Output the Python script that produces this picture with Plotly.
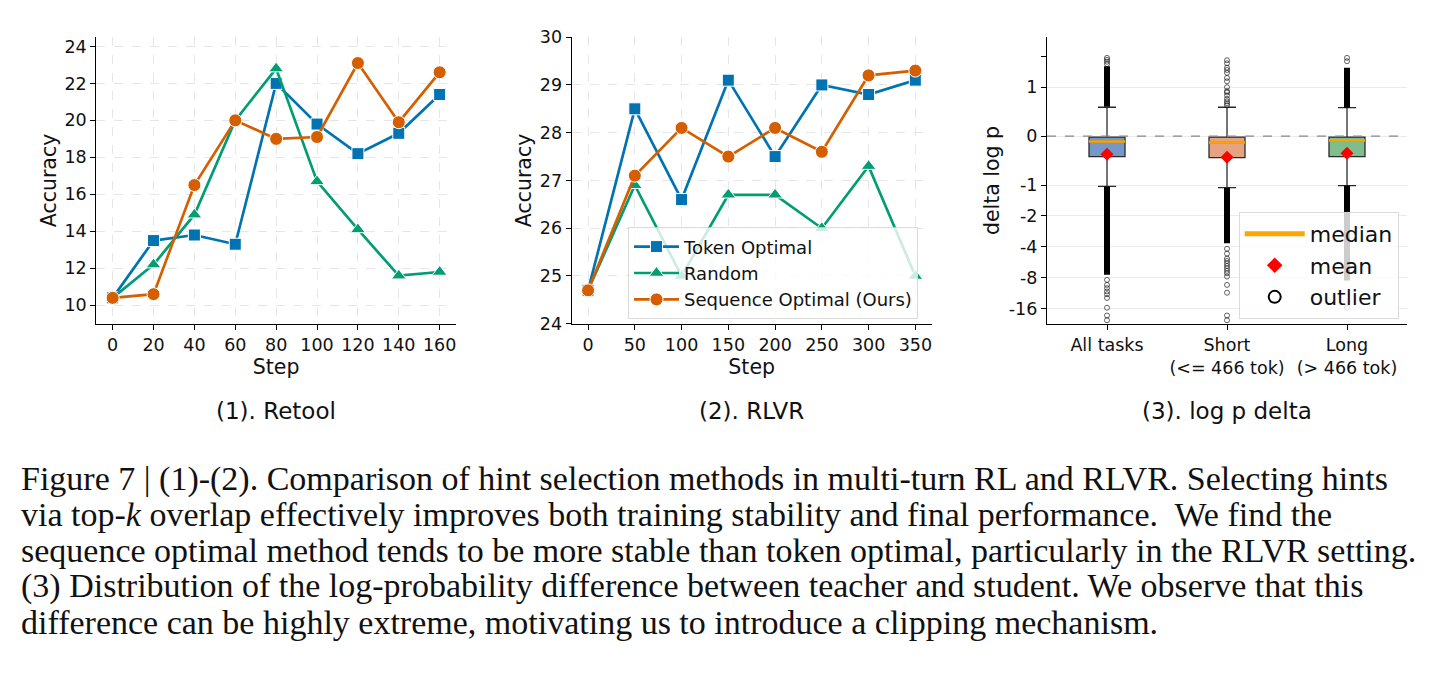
import math
import plotly.graph_objects as go

# ---------------- data ----------------
steps_retool = [0, 20, 40, 60, 80, 100, 120, 140, 160]
retool_token = [10.4, 13.5, 13.8, 13.3, 22.0, 19.8, 18.2, 19.3, 21.4]
retool_random = [10.4, 12.2, 14.9, 20.0, 22.8, 16.7, 14.1, 11.6, 11.8]
retool_seq = [10.4, 10.6, 16.5, 20.0, 19.0, 19.1, 23.1, 19.9, 22.6]

steps_rlvr = [0, 50, 100, 150, 200, 250, 300, 350]
rlvr_token = [24.7, 28.5, 26.6, 29.1, 27.5, 29.0, 28.8, 29.1]
rlvr_random = [24.7, 26.9, 25.0, 26.7, 26.7, 26.0, 27.3, 25.0]
rlvr_seq = [24.7, 27.1, 28.1, 27.5, 28.1, 27.6, 29.2, 29.3]

series_names = ["Token Optimal", "Random", "Sequence Optimal (Ours)"]

box_labels = ["All tasks", "Short<br>(&lt;= 466 tok)", "Long<br>(&gt; 466 tok)"]
box_q1 = [-0.42, -0.44, -0.42]
box_median = [-0.11, -0.13, -0.09]
box_q3 = [-0.02, -0.02, -0.02]
box_mean = [-0.37, -0.43, -0.35]
box_upper_whisker = [0.59, 0.59, 0.58]
box_lower_whisker = [-1.03, -1.06, -1.01]
# dense runs of overlapping outliers (low, high)
dense_outlier_runs = [
    [(0.60, 1.60), (-7.5, -1.03)],
    [(-3.7, -1.06)],
    [(0.58, 1.55), (-8.5, -1.01)],
]
sparse_outliers = [
    [1.68, 1.77, 1.85, 1.93, -8.4, -9.4, -10.1, -10.9, -11.6, -12.6, -15.7, -18.7, -20.8],
    [0.63, 0.67, 0.71, 0.76, 0.83, 0.89, 0.92, 1.0, 1.14, 1.23, 1.38, 1.47, 1.55, 1.71, 1.83,
     -4.18, -4.66, -5.2, -5.49, -5.81, -6.14, -6.48, -6.86, -7.25, -7.8, -9.4, -11.2, -18.7, -20.8],
    [1.79, 1.93, -15.7],
]
logp_ticks = [1, 0, -1, -2, -4, -8, -16]
logp_minor_ticks = [2]

caption_lines = [
    "Figure 7 | (1)-(2). Comparison of hint selection methods in multi-turn RL and RLVR. Selecting hints",
    "via top-<i>k</i> overlap effectively improves both training stability and final performance.  We find the",
    "sequence optimal method tends to be more stable than token optimal, particularly in the RLVR setting.",
    "(3) Distribution of the log-probability difference between teacher and student. We observe that this",
    "difference can be highly extreme, motivating us to introduce a clipping mechanism.",
]
subtitles = ["(1). Retool", "(2). RLVR", "(3). log p delta"]

# ---------------- styling ----------------
W, H = 1451, 678
BLUE, GREEN, ORANGE = "#0173B2", "#029E73", "#D55E00"
BOX_FILL = ["#7597c9", "#e6a381", "#7fbe8c"]
FONT = "DejaVu Sans"


def sym(v):
    """linear within [-1, 1], log2 beyond"""
    if abs(v) <= 1:
        return v
    return math.copysign(1 + 0.63 * math.log2(abs(v)), v)


def px_x(p):
    return p / W


def px_y(p):
    return 1 - p / H


fig = go.Figure()

markers = [("square", 12), ("triangle-up", 13), ("circle", 13)]
colors = [BLUE, GREEN, ORANGE]

for (xs, ys_list, xa, ya, show) in [
    (steps_retool, [retool_token, retool_random, retool_seq], "x", "y", False),
    (steps_rlvr, [rlvr_token, rlvr_random, rlvr_seq], "x2", "y2", True),
]:
    for i, ys in enumerate(ys_list):
        fig.add_trace(go.Scatter(
            x=xs, y=ys, mode="lines+markers", name=series_names[i],
            line=dict(color=colors[i], width=2.7),
            marker=dict(symbol=markers[i][0], size=markers[i][1], color=colors[i],
                        line=dict(color="white", width=1)),
            xaxis=xa, yaxis=ya, showlegend=show, legend="legend",
        ))

# ---- box plot panel ----
BW = 0.3
for i in range(3):
    fig.add_trace(go.Box(
        x=[i], q1=[sym(box_q1[i])], median=[sym(box_median[i])], q3=[sym(box_q3[i])],
        lowerfence=[sym(box_lower_whisker[i])], upperfence=[sym(box_upper_whisker[i])],
        width=BW, whiskerwidth=0.5, fillcolor=BOX_FILL[i],
        line=dict(color="#2a2a2a", width=1.3), boxpoints=False,
        xaxis="x3", yaxis="y3", showlegend=False, hoverinfo="skip",
    ))
    for (lo, hi) in dense_outlier_runs[i]:
        fig.add_trace(go.Scatter(
            x=[i, i], y=[sym(lo), sym(hi)], mode="lines",
            line=dict(color="black", width=6), xaxis="x3", yaxis="y3",
            showlegend=False, hoverinfo="skip",
        ))
    fig.add_trace(go.Scatter(
        x=[i] * len(sparse_outliers[i]), y=[sym(v) for v in sparse_outliers[i]],
        mode="markers", marker=dict(symbol="circle-open", size=5, color="rgba(0,0,0,0.6)",
                                    line=dict(width=1)),
        xaxis="x3", yaxis="y3", showlegend=False, hoverinfo="skip",
    ))
    fig.add_trace(go.Scatter(
        x=[i - BW / 2, i + BW / 2], y=[sym(box_median[i])] * 2, mode="lines",
        line=dict(color="#FFA500", width=2.6), xaxis="x3", yaxis="y3",
        showlegend=False, hoverinfo="skip",
    ))
    fig.add_trace(go.Scatter(
        x=[i], y=[sym(box_mean[i])], mode="markers",
        marker=dict(symbol="diamond", size=10, color="red"),
        xaxis="x3", yaxis="y3", showlegend=False, hoverinfo="skip",
    ))

# legend-only entries for panel 3
fig.add_trace(go.Scatter(x=[None], y=[None], mode="lines", name="median",
                         line=dict(color="#FFA500", width=3), xaxis="x3", yaxis="y3",
                         legend="legend2"))
fig.add_trace(go.Scatter(x=[None], y=[None], mode="markers", name="mean",
                         marker=dict(symbol="diamond", size=14, color="red"),
                         xaxis="x3", yaxis="y3", legend="legend2"))
fig.add_trace(go.Scatter(x=[None], y=[None], mode="markers", name="outlier",
                         marker=dict(symbol="circle-open", size=10, color="black",
                                     line=dict(width=1.2)),
                         xaxis="x3", yaxis="y3", legend="legend2"))

# zero reference line in panel 3
fig.add_trace(go.Scatter(x=[-0.5, 2.5], y=[0, 0], mode="lines",
                         line=dict(color="#888888", width=1.2, dash="dash"),
                         xaxis="x3", yaxis="y3", showlegend=False, hoverinfo="skip"))

TICKF = dict(family=FONT, size=17.5, color="#111")
TITLEF = dict(family=FONT, size=20.5, color="#111")
GRID = dict(showgrid=True, gridcolor="#e6e6e6", gridwidth=0.8, griddash="dash")
AX = dict(showline=True, linecolor="black", linewidth=1.2, ticks="outside", ticklen=5,
          tickcolor="black", tickfont=TICKF, zeroline=False, mirror=False)

top, bottom = 28, 323.3
ydom = [px_y(bottom), px_y(top)]

fig.update_layout(
    width=W, height=H, margin=dict(l=0, r=0, t=0, b=0),
    paper_bgcolor="white", plot_bgcolor="white",
    font=dict(family=FONT, color="#111"),
    xaxis=dict(domain=[px_x(96.3), px_x(456)], range=[-8, 168], tickvals=steps_retool,
               title=dict(text="Step", font=TITLEF, standoff=1), anchor="y", **AX, **GRID),
    yaxis=dict(domain=ydom, range=[9.0, 24.5], tickvals=[10, 12, 14, 16, 18, 20, 22, 24],
               title=dict(text="Accuracy", font=TITLEF, standoff=2), anchor="x", **AX, **GRID),
    xaxis2=dict(domain=[px_x(571.7), px_x(931.7)], range=[-17.5, 367.5], tickvals=steps_rlvr,
                title=dict(text="Step", font=TITLEF, standoff=1), anchor="y2", **AX, **GRID),
    yaxis2=dict(domain=ydom, range=[24, 30], tickvals=[24, 25, 26, 27, 28, 29, 30],
                title=dict(text="Accuracy", font=TITLEF, standoff=2), anchor="x2", **AX, **GRID),
    xaxis3=dict(domain=[px_x(1047), px_x(1407)], range=[-0.5, 2.5], tickvals=[0, 1, 2],
                ticktext=box_labels, showgrid=False, anchor="y3", **AX),
    yaxis3=dict(domain=ydom, range=[-3.83, 2.02],
                tickvals=[sym(v) for v in logp_ticks], ticktext=[str(v) for v in logp_ticks],
                minor=dict(tickvals=[sym(v) for v in logp_minor_ticks], ticks="outside",
                           ticklen=5, tickcolor="black", showgrid=False),
                showgrid=True, gridcolor="#ebebeb", gridwidth=1,
                title=dict(text="delta log p", font=TITLEF, standoff=3), anchor="x3", **AX),
    legend=dict(x=px_x(628), y=px_y(224), xanchor="left", yanchor="top",
                bgcolor="rgba(255,255,255,0.8)", bordercolor="rgba(210,210,210,0.8)",
                borderwidth=1, font=dict(family=FONT, size=18, color="#111"),
                itemwidth=45, tracegroupgap=0),
    legend2=dict(x=px_x(1238.7), y=px_y(208), xanchor="left", yanchor="top",
                 bgcolor="rgba(255,255,255,0.8)", bordercolor="rgba(210,210,210,0.8)",
                 borderwidth=1, font=dict(family=FONT, size=22, color="#111"),
                 itemwidth=60, itemsizing="constant"),
    showlegend=True,
)

sub_centers = [276, 751.7, 1227]
for s, cx in zip(subtitles, sub_centers):
    fig.add_annotation(text=s, x=px_x(cx), y=px_y(413), xref="paper", yref="paper",
                       xanchor="center", yanchor="middle", showarrow=False,
                       font=dict(family=FONT, size=23, color="#111"))

cap_y = [483, 520, 557, 594, 631]
for line, cy in zip(caption_lines, cap_y):
    fig.add_annotation(text=line, x=px_x(19), y=px_y(cy), xref="paper", yref="paper",
                       xanchor="left", yanchor="middle", showarrow=False,
                       font=dict(family="Liberation Serif", size=34, color="#111"))

fig.write_html("out.html")
